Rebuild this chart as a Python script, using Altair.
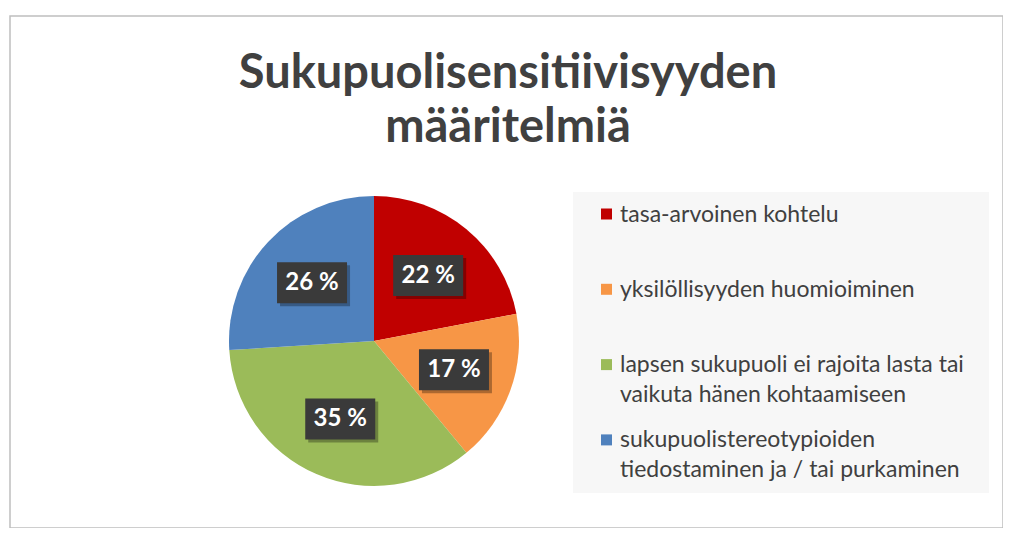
import altair as alt
import pandas as pd

categories = [
    "tasa-arvoinen kohtelu",
    "yksilöllisyyden huomioiminen",
    "lapsen sukupuoli ei rajoita lasta tai\nvaikuta hänen kohtaamiseen",
    "sukupuolistereotypioiden\ntiedostaminen ja / tai purkaminen",
]
values = [22, 17, 35, 26]
labels = ["22 %", "17 %", "35 %", "26 %"]
colors = ["#C00000", "#F79646", "#9BBB59", "#4F81BD"]
title_lines = ["Sukupuolisensitiivisyyden", "määritelmiä"]

FONT = "Lato"
TXT = "#404040"
CX, CY, R = 364, 325, 145
LABEL_R = 85

df = pd.DataFrame({
    "idx": list(range(len(categories))),
    "cat": categories,
    "value": values,
    "label": labels,
})

color_scale = alt.Scale(domain=categories, range=colors)
base = alt.Chart(df)

# legend background
legend_bg = alt.Chart(pd.DataFrame({"a": [0]})).mark_rect(color="#f7f7f7").encode(
    x=alt.value(563), x2=alt.value(979), y=alt.value(176), y2=alt.value(477)
)

pie = base.mark_arc(outerRadius=R).encode(
    theta=alt.Theta("value:Q", stack=True),
    color=alt.Color("cat:N", scale=color_scale, legend=None),
    order=alt.Order("idx:Q"),
    x=alt.value(CX),
    y=alt.value(CY),
)

lab = base.transform_window(
    cum="sum(value)", sort=[alt.SortField("idx")]
).transform_joinaggregate(total="sum(value)").transform_calculate(
    ang="(datum.cum - datum.value/2) / datum.total * 2 * PI",
).transform_calculate(
    px=f"{CX} + {LABEL_R} * sin(datum.ang)",
    py=f"{CY} - {LABEL_R} * cos(datum.ang)",
)

box_shape = "M-1,-0.585H1V0.585H-1Z"
shadow = lab.mark_point(shape=box_shape, size=4900, filled=True, color="#000000",
                        opacity=0.3, xOffset=3, yOffset=3).encode(
    x=alt.X("px:Q", scale=None, axis=None),
    y=alt.Y("py:Q", scale=None, axis=None),
)
boxes = lab.mark_point(shape=box_shape, size=4900, filled=True, color="#3a3a3a",
                       opacity=1).encode(
    x=alt.X("px:Q", scale=None, axis=None),
    y=alt.Y("py:Q", scale=None, axis=None),
)
texts = lab.mark_text(font=FONT, fontSize=24, fontWeight="bold", color="white",
                      align="center", baseline="middle").encode(
    x=alt.X("px:Q", scale=None, axis=None),
    y=alt.Y("py:Q", scale=None, axis=None),
    text="label:N",
)

leg = base.transform_calculate(
    ly="198 + datum.idx * 75.3"
)
leg_sq = leg.mark_square(size=121, filled=True, opacity=1).encode(
    x=alt.value(596.5),
    y=alt.Y("ly:Q", scale=None, axis=None),
    color=alt.Color("cat:N", scale=color_scale, legend=None),
)
leg_txt = leg.transform_calculate(ty="datum.ly + 7.5").mark_text(
    font=FONT, fontSize=23, color=TXT, align="left", baseline="alphabetic",
    lineBreak="\n", lineHeight=30,
).encode(
    x=alt.value(610),
    y=alt.Y("ty:Q", scale=None, axis=None),
    text="cat:N",
)

tdf = pd.DataFrame({"t": title_lines, "i": [0, 1]})
title = alt.Chart(tdf).transform_calculate(ty="72 + datum.i * 54").mark_text(
    font=FONT, fontSize=47, fontWeight="bold", color=TXT, align="center",
    baseline="alphabetic",
).encode(
    x=alt.value(498),
    y=alt.Y("ty:Q", scale=None, axis=None),
    text="t:N",
)

chart = alt.layer(legend_bg, pie, shadow, boxes, texts, leg_sq, leg_txt, title).properties(
    width=993, height=512,
    autosize=alt.AutoSizeParams(type="none"),
    padding={"left": 2, "top": 8, "right": 0, "bottom": 0},
    background="white",
).configure_view(stroke="#bfbfbf", strokeWidth=1.5)

chart.save("out.html", embed_options={"renderer": "svg", "actions": False})
